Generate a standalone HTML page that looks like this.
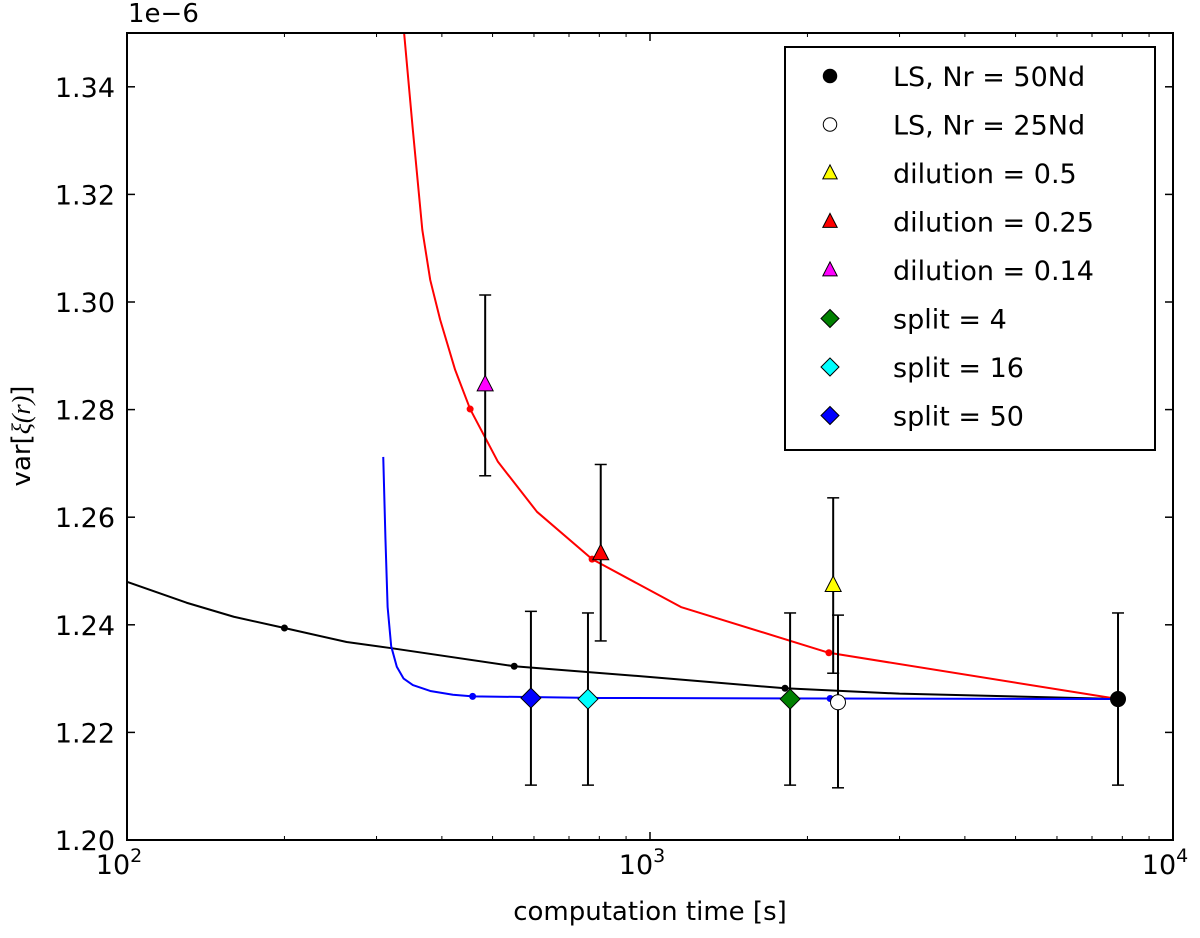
<!DOCTYPE html>
<html><head><meta charset="utf-8">
<style>
body{margin:0;background:#fff;}
svg{display:block;font-family:"DejaVu Sans","Liberation Sans",sans-serif;}
</style></head>
<body>
<svg id="chart" width="1200" height="938" viewBox="0 0 1200 938"></svg>
<script>
const xTickVals=[100,1000,10000];
const xTickExp=["2","3","4"];
const yTickVals=[1.20,1.22,1.24,1.26,1.28,1.30,1.32,1.34];
const yTickLabels=["1.20","1.22","1.24","1.26","1.28","1.30","1.32","1.34"];
const blackLineX=[100,130,160,200,263,318,550,1000,1812,3000,7850];
const blackLineY=[1.2480,1.2441,1.2415,1.2394,1.2368,1.2357,1.2323,1.2303,1.2282,1.2272,1.2262];
const blackDotX=[200,550,1812];
const blackDotY=[1.2394,1.2323,1.2282];
const redLineX=[338,352,367,380,397,424,453,512,608,775,1146,2198,7850];
const redLineY=[1.3510,1.3320,1.3134,1.3041,1.2967,1.2874,1.2801,1.2703,1.2610,1.2522,1.2433,1.2348,1.2262];
const redDotX=[453,775,2198];
const redDotY=[1.2801,1.2522,1.2348];
const blueLineX=[309,312,315,320,328,338,352,380,420,458,800,2200,7850];
const blueLineY=[1.2712,1.2560,1.2433,1.2360,1.2322,1.2300,1.2288,1.2277,1.2270,1.2267,1.2264,1.2263,1.2262];
const blueDotX=[458,761,2210];
const blueDotY=[1.2267,1.2265,1.2263];
const seriesNames=["LS, Nr = 50Nd","LS, Nr = 25Nd","dilution = 0.5","dilution = 0.25","dilution = 0.14","split = 4","split = 16","split = 50"];
const seriesX=[7850,2288,2240,805,484,1853,761,592];
const seriesY=[1.2262,1.2256,1.2474,1.2533,1.2847,1.2262,1.2262,1.2264];
const seriesErrLo=[1.2102,1.2097,1.2310,1.2370,1.2677,1.2102,1.2102,1.2102];
const seriesErrHi=[1.2422,1.2418,1.2636,1.2698,1.3013,1.2422,1.2422,1.2425];
const seriesColor=["#000","#fff","#ffff00","#ff0000","#ff00ff","#008000","#00ffff","#0000ff"];
const seriesShape=["circle","circle","tri","tri","tri","diamond","diamond","diamond"];

const L=127,R=1173,T=33,B=840;
const X=v=>L+(Math.log10(v)-2)/2*(R-L);
const Y=v=>B-(v-1.20)/0.15*(B-T);
const NS="http://www.w3.org/2000/svg";
const svg=document.getElementById('chart');
function mk(tag,attrs,parent){const e=document.createElementNS(NS,tag);for(const k in attrs)e.setAttribute(k,attrs[k]);(parent||svg).appendChild(e);return e;}
const defs=mk('defs',{});const cp=mk('clipPath',{id:'clip'},defs);mk('rect',{x:L,y:T,width:R-L,height:B-T},cp);
const plot=mk('g',{'clip-path':'url(#clip)'});



function line(xs,ys,color,name){
  const p=mk('polyline',{points:xs.map((x,i)=>X(x)+','+Y(ys[i])).join(' '),fill:'none',stroke:color,'stroke-width':2,'stroke-linejoin':'round'},plot);
  
  
}
function dots(xs,ys,color,name){
  xs.forEach((x,i)=>{const c=mk('circle',{cx:X(x),cy:Y(ys[i]),r:3.5,fill:color},plot);
  
  });
}
line(blackLineX,blackLineY,'#000','black-curve');
line(redLineX,redLineY,'#ff0000','red-curve');
line(blueLineX,blueLineY,'#0000ff','blue-curve');
dots(blackDotX,blackDotY,'#000','black-dot');
dots(redDotX,redDotY,'#ff0000','red-dot');
dots(blueDotX,blueDotY,'#0000ff','blue-dot');

function marker(shape,cx,cy,color,parent,s){
  s=s||1;let e;
  if(shape==='circle')e=mk('circle',{cx,cy,r:7.5*s,fill:color,stroke:'#000','stroke-width':1},parent);
  else if(shape==='tri')e=mk('polygon',{points:`${cx},${cy-9*s} ${cx+8*s},${cy+6.5*s} ${cx-8*s},${cy+6.5*s}`,fill:color,stroke:'#000','stroke-width':1},parent);
  else e=mk('polygon',{points:`${cx},${cy-10*s} ${cx+10*s},${cy} ${cx},${cy+10*s} ${cx-10*s},${cy}`,fill:color,stroke:'#000','stroke-width':1},parent);
  return e;
}
seriesX.forEach((x,i)=>{
  const g=mk('g',{},svg);
  
  
  const cx=X(x);
  mk('line',{x1:cx,x2:cx,y1:Y(seriesErrLo[i]),y2:Y(seriesErrHi[i]),stroke:'#000','stroke-width':2},g);
  [seriesErrLo[i],seriesErrHi[i]].forEach(v=>mk('line',{x1:cx-6,x2:cx+6,y1:Y(v),y2:Y(v),stroke:'#000','stroke-width':1.5},g));
  marker(seriesShape[i],cx,Y(seriesY[i]),seriesColor[i],g);
});
const fr=mk('rect',{x:L,y:T,width:R-L,height:B-T,fill:'none',stroke:'#000','stroke-width':2});


yTickVals.forEach((v,i)=>{
  const y=Y(v);
  mk('line',{x1:L,x2:L+8,y1:y,y2:y,stroke:'#000','stroke-width':1.5});
  mk('line',{x1:R,x2:R-8,y1:y,y2:y,stroke:'#000','stroke-width':1.5});
  const t=mk('text',{x:L-12,y:y+10,'text-anchor':'end','font-size':27});
  t.textContent=yTickLabels[i];
  
  
});
for(let d=2;d<4;d++)for(let m=2;m<10;m++){const x=X(m*Math.pow(10,d));
  mk('line',{x1:x,x2:x,y1:B,y2:B-4,stroke:'#000','stroke-width':1});
  mk('line',{x1:x,x2:x,y1:T,y2:T+4,stroke:'#000','stroke-width':1});}
xTickVals.forEach((v,i)=>{
  const x=X(v);
  mk('line',{x1:x,x2:x,y1:B,y2:B-8,stroke:'#000','stroke-width':1.5});
  mk('line',{x1:x,x2:x,y1:T,y2:T+8,stroke:'#000','stroke-width':1.5});
  const t=mk('text',{x:x-8,y:B+34,'text-anchor':'middle','font-size':27});
  t.textContent='10';
  const s=mk('tspan',{dy:-12,'font-size':19},t);s.textContent=xTickExp[i];
  
  
});
const off=mk('text',{x:128,y:22,'font-size':26});off.textContent='1e\u22126';


const xl=mk('text',{x:650,y:920,'text-anchor':'middle','font-size':26});xl.textContent='computation time [s]';


const yl=mk('text',{x:0,y:0,'text-anchor':'middle','font-size':26,transform:'translate(30,436) rotate(-90)'});
yl.textContent='var[';
const yi=mk('tspan',{'font-family':'"Liberation Serif",serif','font-style':'italic'},yl);yi.textContent='ξ(r)';
const yr=mk('tspan',{},yl);yr.textContent=']';


const lg=mk('g',{});


mk('rect',{x:785,y:47,width:370,height:403,fill:'#fff',stroke:'#000','stroke-width':2},lg);
seriesNames.forEach((n,i)=>{
  const y=76+i*48.5;
  const e=mk('g',{},lg);
  
  
  marker(seriesShape[i],830,y,seriesColor[i],e,0.9);
  const t=mk('text',{x:893,y:y+10,'font-size':27},e);t.textContent=n;
});
</script>
</body></html>
